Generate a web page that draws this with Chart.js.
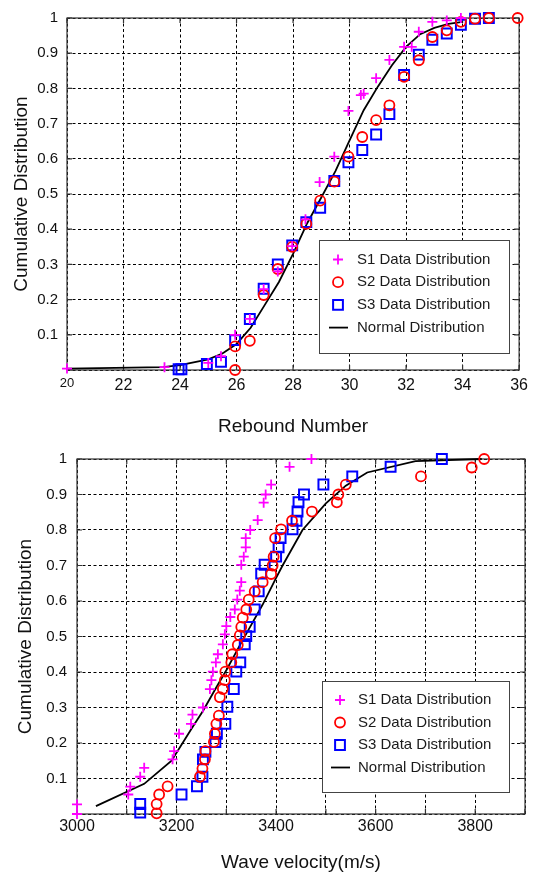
<!DOCTYPE html>
<html>
<head>
<meta charset="utf-8">
<script src="https://cdn.jsdelivr.net/npm/chart.js@4.4.1/dist/chart.umd.min.js"></script>
<style>
  body { margin: 0; background: #fff; }
  canvas { display: block; }
</style>
</head>
<body>
<canvas id="rebound-chart" width="534" height="440"></canvas>
<canvas id="velocity-chart" width="534" height="433"></canvas>
<script>
// Rebound number data (top chart)
const reboundS1X = [20, 23.45, 25, 25.45, 25.95, 26.47, 26.96, 27.46, 27.97, 28.44, 28.94, 29.46, 29.96, 30.4, 30.5, 30.94, 31.41, 31.93, 32.2, 32.45, 32.93, 33.44, 33.94];
const reboundS1Y = [0.004, 0.008, 0.02, 0.039, 0.1, 0.145, 0.23, 0.28, 0.352, 0.428, 0.534, 0.606, 0.736, 0.781, 0.785, 0.829, 0.881, 0.918, 0.918, 0.961, 0.989, 0.993, 1.0];
const reboundS2X = [25.95, 25.95, 26.47, 26.96, 27.46, 27.97, 28.47, 28.96, 29.46, 29.96, 30.45, 30.94, 31.41, 31.93, 32.45, 32.93, 33.44, 33.94, 34.44, 34.93, 35.95];
const reboundS2Y = [0.0, 0.067, 0.083, 0.213, 0.287, 0.35, 0.415, 0.481, 0.535, 0.606, 0.662, 0.71, 0.752, 0.833, 0.88, 0.946, 0.965, 0.989, 0.998, 1.0, 1.0];
const reboundS3X = [23.95, 24.05, 24.95, 25.45, 25.95, 26.47, 26.96, 27.46, 27.97, 28.47, 28.96, 29.46, 29.96, 30.45, 30.94, 31.41, 31.93, 32.45, 32.93, 33.44, 33.94, 34.44, 34.93];
const reboundS3Y = [0.002, 0.002, 0.017, 0.023, 0.085, 0.145, 0.231, 0.3, 0.354, 0.42, 0.461, 0.537, 0.59, 0.625, 0.669, 0.727, 0.838, 0.896, 0.938, 0.956, 0.981, 0.998, 1.0];
const reboundNormX = [20, 23.4, 24, 25, 25.5, 26, 26.5, 27, 27.5, 28, 28.5, 29, 29.5, 30, 30.5, 31, 31.5, 32, 32.5, 33, 33.5, 34];
const reboundNormY = [0.004, 0.008, 0.014, 0.03, 0.047, 0.074, 0.12, 0.185, 0.25, 0.33, 0.417, 0.49, 0.565, 0.652, 0.738, 0.805, 0.866, 0.918, 0.954, 0.972, 0.983, 0.989];

// Wave velocity data (bottom chart)
const waveS1X = [3000, 3000, 3103, 3107, 3127, 3135, 3192, 3195, 3205, 3229, 3232, 3253, 3267, 3270, 3273, 3279, 3283, 3293, 3297, 3300, 3308, 3317, 3322, 3327, 3330, 3330, 3335, 3339, 3339, 3348, 3363, 3375, 3379, 3390, 3427, 3471];
const waveS1Y = [0.0, 0.027, 0.055, 0.077, 0.105, 0.13, 0.154, 0.177, 0.226, 0.254, 0.28, 0.3, 0.352, 0.377, 0.401, 0.427, 0.45, 0.478, 0.506, 0.529, 0.555, 0.576, 0.604, 0.629, 0.653, 0.702, 0.725, 0.751, 0.777, 0.8, 0.828, 0.877, 0.9, 0.928, 0.978, 1.0];
const waveS2X = [3160, 3160, 3165, 3182, 3247, 3252, 3257, 3258, 3275, 3277, 3280, 3285, 3287, 3293, 3297, 3298, 3310, 3312, 3323, 3327, 3330, 3333, 3340, 3345, 3357, 3373, 3390, 3393, 3395, 3398, 3410, 3432, 3472, 3522, 3525, 3540, 3691, 3793, 3818];
const waveS2Y = [0.002, 0.028, 0.055, 0.078, 0.105, 0.128, 0.154, 0.177, 0.203, 0.226, 0.254, 0.277, 0.329, 0.352, 0.377, 0.401, 0.427, 0.45, 0.476, 0.503, 0.527, 0.553, 0.576, 0.604, 0.627, 0.653, 0.676, 0.7, 0.725, 0.777, 0.802, 0.826, 0.852, 0.878, 0.9, 0.928, 0.951, 0.976, 1.0];
const waveS3X = [3127, 3127, 3210, 3241, 3252, 3253, 3258, 3278, 3281, 3298, 3302, 3315, 3320, 3328, 3337, 3340, 3347, 3357, 3365, 3370, 3377, 3400, 3405, 3409, 3433, 3441, 3443, 3445, 3456, 3495, 3553, 3630, 3733];
const waveS3Y = [0.004, 0.028, 0.055, 0.078, 0.105, 0.154, 0.175, 0.203, 0.226, 0.254, 0.302, 0.352, 0.401, 0.427, 0.478, 0.501, 0.527, 0.576, 0.627, 0.677, 0.702, 0.725, 0.751, 0.777, 0.802, 0.826, 0.852, 0.878, 0.9, 0.928, 0.951, 0.978, 1.0];
const waveNormX = [3038, 3135, 3190, 3230, 3253, 3280, 3300, 3327, 3345, 3373, 3400, 3413, 3453, 3500, 3540, 3583, 3680, 3813];
const waveNormY = [0.022, 0.085, 0.15, 0.24, 0.29, 0.357, 0.405, 0.475, 0.52, 0.59, 0.665, 0.7, 0.8, 0.875, 0.925, 0.962, 0.994, 1.0];

const seriesLabels = ["S1 Data Distribution", "S2 Data Distribution", "S3 Data Distribution", "Normal Distribution"];
const FONT = "Arial, 'Liberation Sans', sans-serif";

function toPoints(xs, ys) {
  return xs.map((x, i) => ({ x: x, y: ys[i] }));
}

function makeDatasets(s1x, s1y, s2x, s2y, s3x, s3y, nx, ny) {
  return [
    { label: seriesLabels[0], data: toPoints(s1x, s1y), pointStyle: "cross", pointRadius: 5,
      borderColor: "#ff00ff", pointBorderWidth: 1.8, showLine: false, clip: false },
    { label: seriesLabels[1], data: toPoints(s2x, s2y), pointStyle: "circle", pointRadius: 5,
      borderColor: "#ff0000", backgroundColor: "rgba(0,0,0,0)", pointBorderWidth: 1.8, showLine: false, clip: false },
    { label: seriesLabels[2], data: toPoints(s3x, s3y), pointStyle: "rect", pointRadius: 7,
      borderColor: "#0000ff", backgroundColor: "rgba(0,0,0,0)", pointBorderWidth: 2, showLine: false, clip: false },
    { label: seriesLabels[3], data: toPoints(nx, ny), pointRadius: 0, showLine: true,
      borderColor: "#000", borderWidth: 1.8, tension: 0, clip: false },
  ];
}

// Draws the solid box around the plot with small inward ticks (MATLAB style)
const frameBox = {
  id: "frameBox",
  beforeDatasetsDraw(chart) {
    const { ctx, chartArea: a, scales } = chart;
    ctx.save();
    ctx.strokeStyle = "#333";
    ctx.lineWidth = 1.2;
    ctx.strokeRect(a.left, a.top, a.right - a.left, a.bottom - a.top);
    ctx.beginPath();
    scales.x.ticks.forEach((t) => {
      const px = scales.x.getPixelForValue(t.value);
      ctx.moveTo(px, a.bottom); ctx.lineTo(px, a.bottom - 5);
      ctx.moveTo(px, a.top); ctx.lineTo(px, a.top + 5);
    });
    scales.y.ticks.forEach((t) => {
      const py = scales.y.getPixelForValue(t.value);
      ctx.moveTo(a.left, py); ctx.lineTo(a.left + 5, py);
      ctx.moveTo(a.right, py); ctx.lineTo(a.right - 5, py);
    });
    ctx.stroke();
    ctx.restore();
  },
};

function drawMarker(ctx, ds, x, y) {
  ctx.strokeStyle = ds.borderColor;
  ctx.beginPath();
  if (ds.showLine) {
    ctx.lineWidth = ds.borderWidth;
    ctx.moveTo(x - 9, y); ctx.lineTo(x + 10, y);
  } else if (ds.pointStyle === "cross") {
    ctx.lineWidth = ds.pointBorderWidth;
    ctx.moveTo(x - 5, y); ctx.lineTo(x + 5, y);
    ctx.moveTo(x, y - 5); ctx.lineTo(x, y + 5);
  } else if (ds.pointStyle === "circle") {
    ctx.lineWidth = ds.pointBorderWidth;
    ctx.arc(x, y, 5, 0, Math.PI * 2);
  } else {
    ctx.lineWidth = ds.pointBorderWidth;
    ctx.rect(x - 4.9, y - 4.9, 9.8, 9.8);
  }
  ctx.stroke();
}

// Legend drawn as a bordered box inside the plot area
const boxLegend = {
  id: "boxLegend",
  afterDraw(chart, args, opts) {
    const ctx = chart.ctx;
    ctx.save();
    ctx.fillStyle = "#fff";
    ctx.fillRect(opts.left, opts.top, opts.width, opts.height);
    ctx.strokeStyle = "#444";
    ctx.lineWidth = 1;
    ctx.strokeRect(opts.left + 0.5, opts.top + 0.5, opts.width, opts.height);
    chart.data.datasets.forEach((ds, i) => {
      const y = opts.firstRow + i * opts.rowGap;
      drawMarker(ctx, ds, opts.markerX, y);
      ctx.fillStyle = "#1a1a1a";
      ctx.font = "15px " + FONT;
      ctx.textBaseline = "middle";
      ctx.textAlign = "left";
      ctx.fillText(ds.label, opts.textX, y);
    });
    ctx.restore();
  },
};

function buildChart(canvasId, cfg) {
  const ctx = document.getElementById(canvasId).getContext("2d");
  return new Chart(ctx, {
    type: "scatter",
    data: { datasets: cfg.datasets },
    plugins: [frameBox, boxLegend],
    options: {
      responsive: false,
      animation: false,
      layout: { padding: { top: cfg.padTop, right: cfg.padRight, left: 0, bottom: 0 } },
      plugins: {
        legend: { display: false },
        tooltip: { enabled: false },
        boxLegend: cfg.legend,
      },
      scales: {
        x: {
          type: "linear",
          min: cfg.xMin,
          max: cfg.xMax,
          afterFit: (scale) => { scale.height = cfg.xAxisHeight; },
          ticks: {
            stepSize: cfg.xStep,
            autoSkip: false,
            maxRotation: 0,
            padding: cfg.xTickPad,
            color: "#111",
            font: cfg.xTickFont,
            callback: cfg.xTickLabel,
          },
          grid: { color: "#000", lineWidth: 1, drawTicks: false },
          border: { display: false, dash: [3, 2.5] },
          title: {
            display: true,
            text: cfg.xTitle,
            color: "#111",
            font: { family: FONT, size: 19, lineHeight: 1 },
            padding: { top: 0, bottom: cfg.xTitlePad },
          },
        },
        y: {
          type: "linear",
          min: 0,
          max: 1,
          afterFit: (scale) => { scale.width = cfg.yAxisWidth; },
          ticks: {
            stepSize: 0.1,
            padding: cfg.yTickPad,
            color: "#111",
            font: { family: FONT, size: 15 },
            callback: (v) => (v === 0 ? "" : String(Math.round(v * 10) / 10)),
          },
          grid: { color: "#000", lineWidth: 1, drawTicks: false },
          border: { display: false, dash: [3, 2.5] },
          title: {
            display: true,
            text: "Cumulative Distribution",
            color: "#111",
            font: { family: FONT, size: 19, lineHeight: 1 },
            padding: { top: cfg.yTitlePad, bottom: 0 },
          },
        },
      },
    },
  });
}

// Top chart: rebound number
buildChart("rebound-chart", {
  datasets: makeDatasets(reboundS1X, reboundS1Y, reboundS2X, reboundS2Y, reboundS3X, reboundS3Y, reboundNormX, reboundNormY),
  padTop: 10,
  padRight: 8,
  xMin: 20,
  xMax: 36,
  xStep: 2,
  xAxisHeight: 70,
  yAxisWidth: 67,
  xTickPad: 6,
  yTickPad: 9,
  xTickFont: (c) => ({ family: FONT, size: c.tick && c.tick.value === 20 ? 13 : 16 }),
  xTickLabel: (v) => String(v),
  xTitle: "Rebound Number",
  xTitlePad: 4,
  yTitlePad: 12,
  legend: { left: 319, top: 240, width: 190, height: 113, markerX: 338, textX: 357, firstRow: 259.5, rowGap: 22.7 },
});

// Bottom chart: wave velocity
buildChart("velocity-chart", {
  datasets: makeDatasets(waveS1X, waveS1Y, waveS2X, waveS2Y, waveS3X, waveS3Y, waveNormX, waveNormY),
  padTop: 17,
  padRight: 7,
  xMin: 3000,
  xMax: 3900,
  xStep: 100,
  xAxisHeight: 59,
  yAxisWidth: 77,
  xTickPad: 3,
  yTickPad: 10,
  xTickFont: { family: FONT, size: 16 },
  xTickLabel: (v) => (v % 200 === 0 ? String(v) : ""),
  xTitle: "Wave velocity(m/s)",
  xTitlePad: 0.5,
  yTitlePad: 16,
  legend: { left: 322, top: 241, width: 187, height: 111, markerX: 340, textX: 358, firstRow: 260, rowGap: 22.5 },
});
</script>
</body>
</html>
